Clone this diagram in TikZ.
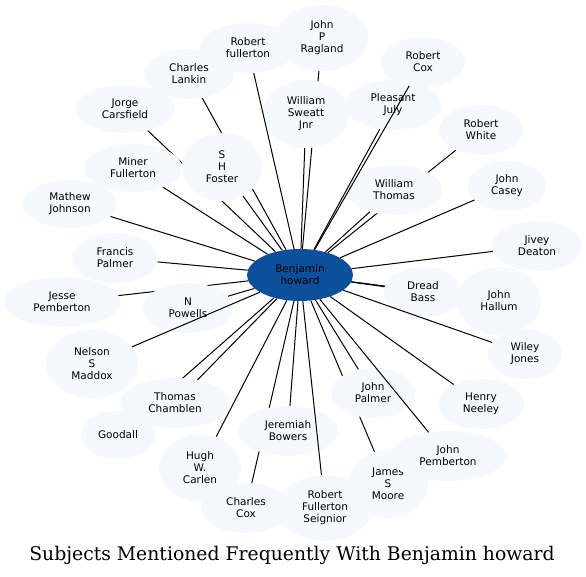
\documentclass[tikz,border=0pt]{standalone}
\usepackage{fontspec}
\setmainfont{DejaVu Sans}
\newfontfamily\titlefont{DejaVu Serif}
\usetikzlibrary{shapes.geometric}
\pgfdeclarelayer{bg}
\pgfsetlayers{bg,main}
\definecolor{nodefill}{RGB}{245,249,255}
\definecolor{centerfill}{RGB}{12,80,156}
\begin{document}
\begin{tikzpicture}[x=1pt,y=-1pt,
  person/.style={ellipse,fill=nodefill,inner sep=0pt,align=center,
    font=\fontsize{10.5}{12}\selectfont},
  hub/.style={person,fill=centerfill},
  link/.style={draw=black,line width=1pt}]
\useasboundingbox (0,0) rectangle (586,577);
% nodes
\node[hub,minimum width=106,minimum height=52] (c) at (300,275) {Benjamin\\howard};
\node[person,minimum width=92,minimum height=66] (rag) at (322,38) {John\\P\\Ragland};
\node[person,minimum width=96,minimum height=50] (rful) at (248,48) {Robert\\fullerton};
\node[person,minimum width=90,minimum height=50] (lank) at (189,74) {Charles\\Lankin};
\node[person,minimum width=100,minimum height=48] (jorge) at (125,109) {Jorge\\Carsfield};
\node[person,minimum width=98,minimum height=48] (miner) at (133,168) {Miner\\Fullerton};
\node[person,minimum width=80,minimum height=68] (fost) at (222,167) {S\\H\\Foster};
\node[person,minimum width=94,minimum height=48] (mat) at (70,204) {Mathew\\Johnson};
\node[person,minimum width=86,minimum height=68] (sweatt) at (306,114) {William\\Sweatt\\Jnr};
\node[person,minimum width=84,minimum height=50] (rcox) at (423,62) {Robert\\Cox};
\node[person,minimum width=96,minimum height=50] (pjuly) at (393,105) {Pleasant\\July};
\node[person,minimum width=84,minimum height=50] (rwhite) at (481,130) {Robert\\White};
\node[person,minimum width=96,minimum height=50] (wthom) at (394,190) {William\\Thomas};
\node[person,minimum width=78,minimum height=50] (casey) at (507,186) {John\\Casey};
\node[person,minimum width=90,minimum height=50] (jivey) at (537,246) {Jivey\\Deaton};
\node[person,minimum width=84,minimum height=68] (hallum) at (499,301) {John\\Hallum};
\node[person,minimum width=78,minimum height=50] (dread) at (423,292) {Dread\\Bass};
\node[person,minimum width=74,minimum height=50] (wiley) at (525,354) {Wiley\\Jones};
\node[person,minimum width=86,minimum height=50] (neeley) at (481,404) {Henry\\Neeley};
\node[person,minimum width=84,minimum height=50] (jpalmer) at (373,393) {John\\Palmer};
\node[person,minimum width=80,minimum height=68] (moore) at (388,484) {James\\S\\Moore};
\node[person,minimum width=116,minimum height=50] (jpemb) at (448,456) {John\\Pemberton};
\node[person,minimum width=90,minimum height=50] (ccox) at (246,508) {Charles\\Cox};
\node[person,minimum width=94,minimum height=66] (seign) at (325,508) {Robert\\Fullerton\\Seignior};
\node[person,minimum width=100,minimum height=50] (bowers) at (288,431) {Jeremiah\\Bowers};
\node[person,minimum width=82,minimum height=68] (hugh) at (200,468) {Hugh\\W.\\Carlen};
\node[person,minimum width=74,minimum height=48] (good) at (118,435) {Goodall};
\node[person,minimum width=110,minimum height=50] (chamb) at (175,403) {Thomas\\Chamblen};
\node[person,minimum width=92,minimum height=68] (nelson) at (92,364) {Nelson\\S\\Maddox};
\node[person,minimum width=116,minimum height=50] (jesse) at (62,302) {Jesse\\Pemberton};
\node[person,minimum width=90,minimum height=50] (npow) at (188,308) {N\\Powells};
\node[person,minimum width=86,minimum height=50] (francis) at (115,258) {Francis\\Palmer};
% edges hidden behind nodes
\begin{pgfonlayer}{bg}
\foreach \t in {rag,rwhite,hallum,moore,ccox,good,jesse,jorge,lank}
  \draw[link] (c) -- (\t);
\end{pgfonlayer}
% edges on top
\foreach \t in {rful,fost,miner,mat,sweatt,pjuly,rcox,wthom,casey,jivey,dread,wiley,neeley,jpalmer,jpemb,seign,bowers,hugh,chamb,nelson,npow,francis}
  \draw[link] (c) -- (\t);
% title
\node (title) at (292,555) {\titlefont\fontsize{18.8}{22}\selectfont Subjects Mentioned Frequently With Benjamin howard};
\end{tikzpicture}
\end{document}
